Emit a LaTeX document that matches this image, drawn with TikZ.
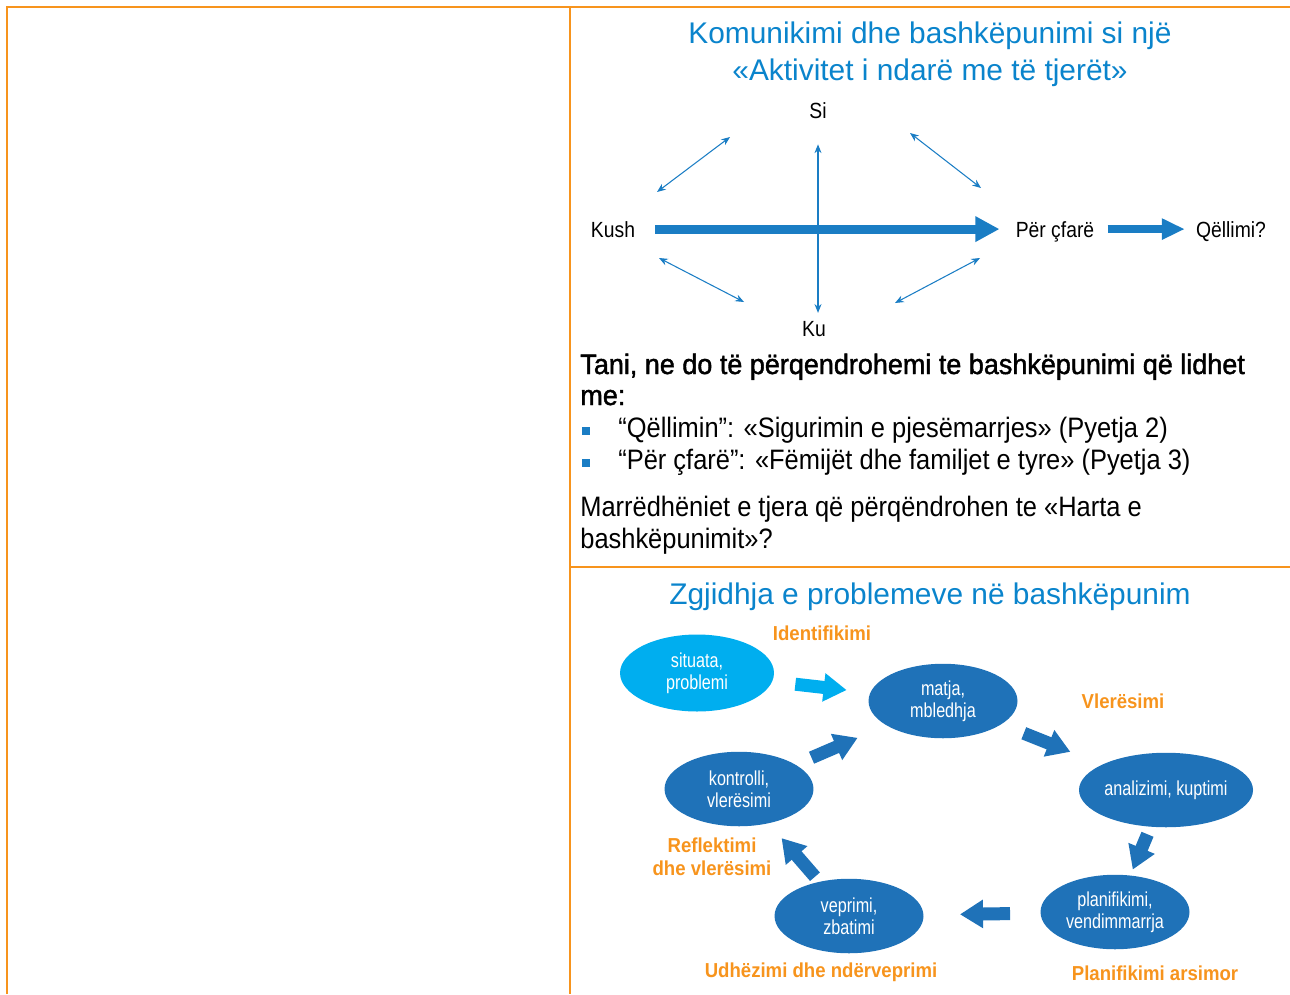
\documentclass[tikz,border=0pt]{standalone}
\usepackage{fontspec}
\setmainfont{Liberation Sans}
\newfontfamily\labelfont[FakeStretch=0.88]{Liberation Sans}
\newfontfamily\ovalfont[FakeStretch=0.8]{Liberation Sans}
\newfontfamily\stagefont[FakeStretch=0.92]{Liberation Sans}
\newfontfamily\bodyfont[FakeStretch=0.905]{Liberation Sans}
\newfontfamily\introfont[FakeStretch=0.96,FakeBold=1.5]{Liberation Sans}
\usepackage{tikz}
\usetikzlibrary{arrows.meta,positioning,shapes.geometric}
\definecolor{frameorange}{HTML}{F7941D}
\definecolor{titleblue}{HTML}{0A84CC}
\definecolor{arrowblue}{HTML}{1A7DC4}
\definecolor{ovalblue}{HTML}{1F72B8}
\definecolor{skyblue}{HTML}{00AEEF}
\definecolor{stageorange}{HTML}{F7941D}
\tikzset{
  framerule/.style={draw=frameorange, line width=1.1pt},
  paneltitle/.style={text=titleblue, font=\fontsize{17}{20}\selectfont,
    inner sep=0pt, anchor=base},
  dirlabel/.style={font=\labelfont\fontsize{12.5}{15}\selectfont,
    inner sep=0pt, anchor=base, text height=9pt, text depth=0pt},
  bodyline/.style={font=\bodyfont\fontsize{16}{19}\selectfont, inner sep=0pt,
    anchor=base west},
  introline/.style={bodyline, font=\introfont\fontsize{16}{19}\selectfont},
  bulletsq/.style={rectangle, fill=arrowblue, minimum size=0.15cm,
    inner sep=0pt},
  bigarrow/.style={-{Triangle[length=0.48cm,width=0.48cm]},
    line width=0.18cm, draw=arrowblue},
  midarrow/.style={-{Triangle[length=0.46cm,width=0.4cm]},
    line width=0.15cm, draw=arrowblue},
  linkarrow/.style={{Stealth[length=5pt,width=4pt]}-{Stealth[length=5pt,width=4pt]},
    line width=0.6pt, draw=arrowblue},
  stepoval/.style={ellipse, fill=#1, text=white,
    minimum width=2.98cm, minimum height=1.49cm, inner sep=0pt,
    align=center, font=\ovalfont\fontsize{11.5}{12.5}\selectfont},
  stepoval/.default=ovalblue,
  stagelabel/.style={text=stageorange,
    font=\stagefont\bfseries\fontsize{11.5}{13}\selectfont,
    align=center, inner sep=0pt},
  blockarrow/.style={-{Triangle[length=0.46cm,width=0.54cm]},
    line width=0.26cm, draw=#1},
  blockarrow/.default=ovalblue,
}
\begin{document}
\begin{tikzpicture}[x=0.02cm, y=-0.02cm]
  \useasboundingbox (0,0) rectangle (1290,994);
  % Frame
  \draw[framerule] (7,994) -- (7,7) -- (1290,7);
  \draw[framerule] (570,7) -- (570,994);
  \draw[framerule] (570,567) -- (1290,567);

  % Communication map
  \node[paneltitle] (title1) at (930,43) {Komunikimi dhe bashkëpunimi si një};
  \node[paneltitle] (title2) at (930,80) {«Aktivitet i ndarë me të tjerët»};
  \node[dirlabel] (si) at (818,118) {Si};
  \node[dirlabel] (ku) at (814,336) {Ku};
  \node[dirlabel] (kush) at (613,237) {Kush};
  \node[dirlabel] (perse) at (1055,237) {Për çfarë};
  \node[dirlabel] (qellimi) at (1231,237) {Qëllimi?};
  \draw[bigarrow, shorten <=0.4cm, shorten >=0.32cm] (kush) -- (perse);
  \draw[midarrow, shorten <=0.26cm, shorten >=0.22cm] (perse) -- (qellimi);
  \draw[linkarrow, shorten <=0.52cm, shorten >=0.14cm] (si.south) -- (si.south |- ku.north);
  \coordinate (nwa) at (657,192); \coordinate (nwb) at (730,137);
  \coordinate (nea) at (910,133); \coordinate (neb) at (981,188);
  \coordinate (swa) at (659,258); \coordinate (swb) at (744,302);
  \coordinate (sea) at (895,303); \coordinate (seb) at (980,258);
  \draw[linkarrow] (nwa) -- (nwb);
  \draw[linkarrow] (nea) -- (neb);
  \draw[linkarrow] (swa) -- (swb);
  \draw[linkarrow] (sea) -- (seb);

  % Questions
  \node[introline] (intro1) at (580,374) {Tani, ne do të përqendrohemi te bashkëpunimi që lidhet};
  \node[introline] (intro2) at (580,405) {me:};
  \node[bulletsq] (dot1) at (586,431) {};
  \node[bodyline] (item1) at (618,437) {“Qëllimin”: «Sigurimin e pjesëmarrjes» (Pyetja 2)};
  \node[bulletsq] (dot2) at (586,463) {};
  \node[bodyline] (item2) at (618,469) {“Për çfarë”: «Fëmijët dhe familjet e tyre» (Pyetja 3)};
  \node[bodyline] (other1) at (580,516) {Marrëdhëniet e tjera që përqëndrohen te «Harta e};
  \node[bodyline] (other2) at (580,548) {bashkëpunimit»?};

  % Problem solving cycle
  \node[paneltitle] (title3) at (930,604) {Zgjidhja e problemeve në bashkëpunim};
  \node[stepoval=skyblue, minimum width=3.08cm, minimum height=1.54cm] (situata) at (697,673) {situata,\\problemi};
  \node[stepoval] (matja) at (943,701) {matja,\\mbledhja};
  \node[stepoval] (analizimi) at (1166,790) {analizimi, kuptimi};
  \node[stepoval] (planifikimi) at (1115,912) {planifikimi,\\vendimmarrja};
  \node[stepoval] (veprimi) at (849,916) {veprimi,\\zbatimi};
  \node[stepoval] (kontrolli) at (739,789) {kontrolli,\\vlerësimi};
  \node[stagelabel] (ident) at (822,633) {Identifikimi};
  \node[stagelabel] (vler) at (1123,701) {Vlerësimi};
  \node[stagelabel] (refl) at (712,857) {Reflektimi\\dhe vlerësimi};
  \node[stagelabel] (udhez) at (821,972) {Udhëzimi dhe ndërveprimi};
  \node[stagelabel] (planar) at (1155,973) {Planifikimi arsimor};
  \draw[blockarrow=skyblue, shorten <=1.98cm, shorten >=1.94cm] (situata.center) -- (matja.center);
  \draw[blockarrow, shorten <=1.58cm, shorten >=1.86cm] (kontrolli.center) -- (matja.center);
  \draw[blockarrow, shorten <=1.74cm, shorten >=2.06cm] (matja.center) -- (analizimi.center);
  \draw[blockarrow, shorten <=0.96cm, shorten >=0.92cm] (analizimi.center) -- (planifikimi.center);
  \draw[blockarrow, shorten <=2.1cm, shorten >=2.22cm] (planifikimi.center) -- (veprimi.center);
  \draw[blockarrow, shorten <=1.04cm, shorten >=1.3cm] (veprimi.center) -- (kontrolli.center);
\end{tikzpicture}
\end{document}
